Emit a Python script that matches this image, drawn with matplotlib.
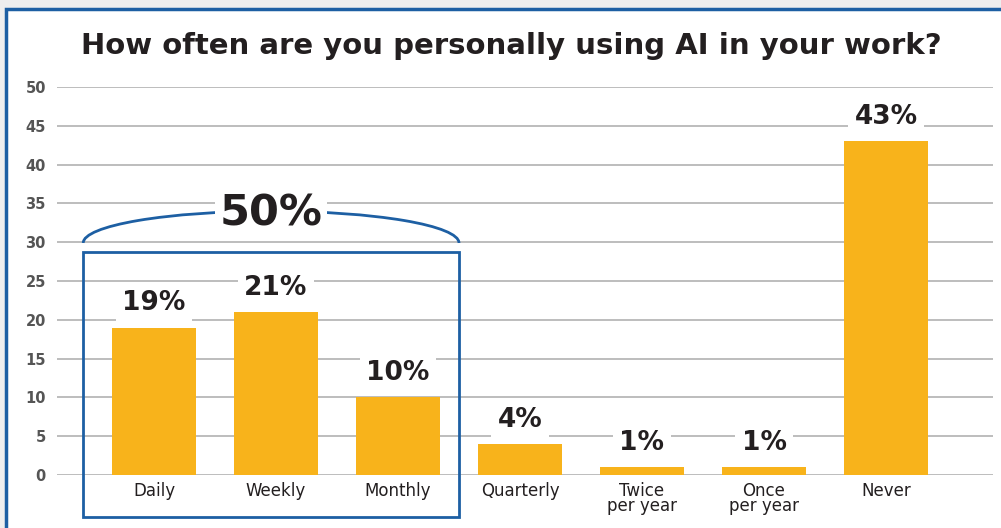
import matplotlib
matplotlib.use("Agg")
import matplotlib.pyplot as plt
from matplotlib.patches import Rectangle, Arc

# Daten
categories = ["Daily", "Weekly", "Monthly", "Quarterly", "Twice\nper year", "Once\nper year", "Never"]
values = [19, 21, 10, 4, 1, 1, 43]
labels = ["19%", "21%", "10%", "4%", "1%", "1%", "43%"]
group_label = "50%"
title = "How often are you personally using AI in your work?"

bar_color = "#f8b31b"
blue = "#1d5fa3"
text_dark = "#231f20"

plt.rcParams["font.family"] = ["DejaVu Sans"]

fig = plt.figure(figsize=(10.01, 5.28), dpi=100)
fig.patch.set_facecolor("#eeeeee")

# weisser Rahmen mit blauem Rand
fig.add_artist(Rectangle((6 / 1001, -0.05), 1.1, 519 / 528 + 0.05,
                         transform=fig.transFigure, facecolor="white",
                         edgecolor=blue, lw=2.5, zorder=0))

ax = fig.add_axes([57 / 1001, 53 / 528, 936 / 1001, 388 / 528])
ax.set_facecolor("none")

x = list(range(len(categories)))
ax.bar(x, values, width=0.69, color=bar_color, zorder=3)

ax.set_xlim(-0.795, 6.877)
ax.set_ylim(0, 50)
ax.set_yticks(range(0, 51, 5))
ax.yaxis.grid(True, color="#bdbdbd", lw=1.4, zorder=1)
ax.set_axisbelow(True)
for s in ax.spines.values():
    s.set_visible(False)
ax.tick_params(axis="both", length=0)
ax.tick_params(axis="y", pad=8, labelsize=10.5, labelcolor="#555555")
ax.tick_params(axis="x", pad=5, labelsize=12, labelcolor=text_dark)
for t in ax.get_yticklabels():
    t.set_fontweight("bold")
ax.set_xticks(x)
ax.set_xticklabels(categories, linespacing=0.8, va="top")

# Werte ueber den Balken
for xi, v, lab in zip(x, values, labels):
    ax.annotate(lab, (xi, v), xytext=(0, 8), textcoords="offset points",
                ha="center", va="bottom", fontsize=19, fontweight="bold",
                color=text_dark, zorder=4,
                bbox=dict(boxstyle="square,pad=0.25", fc="white", ec="none"))

# Gruppenrahmen Daily..Monthly
ax.add_patch(Rectangle((-0.58, -5.4), 3.08, 34.1, fill=False, edgecolor=blue,
                       lw=2, clip_on=False, zorder=5))
ax.add_patch(Arc((0.96, 29.9), 3.08, 8.2, theta1=0, theta2=180,
                 edgecolor=blue, lw=2, clip_on=False, zorder=5))
ax.text(0.96, 33.7, group_label, ha="center", va="center", fontsize=31,
        fontweight="bold", color=text_dark, zorder=6,
        bbox=dict(boxstyle="square,pad=0.1", fc="white", ec="none"))

fig.text(0.511, 1 - 46 / 528, title, ha="center", va="center",
         fontsize=21, fontweight="bold", color=text_dark)

fig.savefig("out.png", dpi=100)
